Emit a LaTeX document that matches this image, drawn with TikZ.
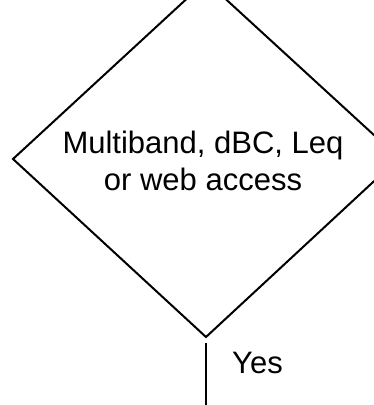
\documentclass[tikz,border=0pt]{standalone}
\usepackage{fontspec}
\setmainfont{Liberation Sans}
\begin{document}
\begin{tikzpicture}[x=1pt,y=-1pt,
  line/.style={line width=2pt,line join=miter},
  txt/.style={inner sep=0pt,align=center,font=\fontsize{31}{37}\selectfont},
  lbl/.style={inner sep=0pt,anchor=base west,font=\fontsize{31}{37}\selectfont}]
\useasboundingbox (0,0) rectangle (374,405);
\clip (0,0) rectangle (374,405);
\coordinate (top) at (206,-19);
\coordinate (right) at (399,158);
\coordinate (bottom) at (206,337);
\coordinate (left) at (13,159);
\draw[line] (top) -- (right) -- (bottom) -- (left) -- cycle;
\node[txt] (dec) at (203,160.5) {Multiband, dBC, Leq\\or web access};
\coordinate (start) at (206,343);
\coordinate (end) at (206,410);
\draw[line] (start) -- (end);
\node[lbl] (yes) at (232,373) {Yes};
\end{tikzpicture}
\end{document}
